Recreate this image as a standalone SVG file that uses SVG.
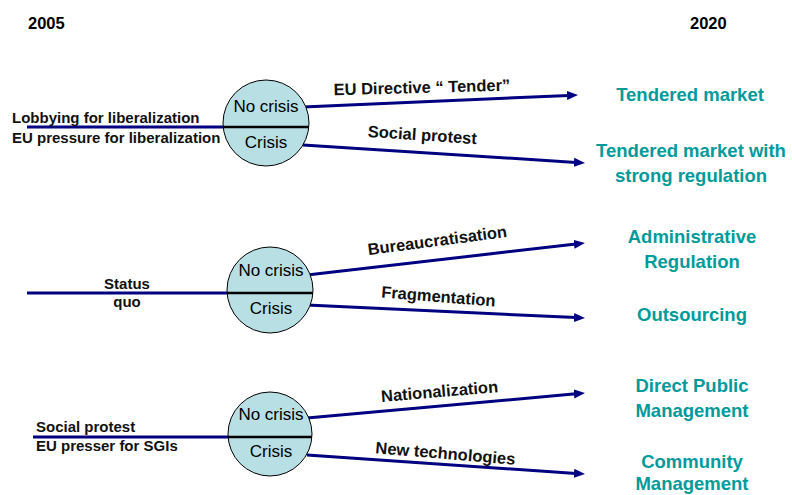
<svg xmlns="http://www.w3.org/2000/svg" width="792" height="495" viewBox="0 0 792 495">
  <style>
    text { font-family: "Liberation Sans", Arial, sans-serif; }
    .year { font-size: 16.5px; font-weight: bold; fill: #000; }
    .driver { font-size: 15px; font-weight: bold; fill: #111; }
    .path-label { font-size: 16.5px; font-weight: bold; fill: #111; text-anchor: middle; }
    .state { font-size: 17px; fill: #000; text-anchor: middle; }
    .outcome { font-size: 18.5px; font-weight: bold; fill: #009a9a; text-anchor: middle; }
    .ball { fill: #b8dfe4; stroke: #000; stroke-width: 1; }
    .split { stroke: #000; stroke-width: 2.5; }
    .trunk { stroke: #000080; stroke-width: 3; fill: none; }
    .branch { stroke: #000080; stroke-width: 3; fill: none; marker-end: url(#head); }
  </style>
  <defs>
    <marker id="head" markerUnits="userSpaceOnUse" markerWidth="12" markerHeight="10" refX="2" refY="4.5" orient="auto">
      <path d="M0,0 L11,4.5 L0,9 z" fill="#000080"/>
    </marker>
  </defs>

  <rect width="792" height="495" fill="#fff"/>

  <!-- timeline ends -->
  <g id="years">
    <text class="year" x="28" y="29">2005</text>
    <text class="year" x="690" y="29">2020</text>
  </g>

  <!-- connectors: incoming trunks and outgoing scenario branches -->
  <g id="connectors">
    <line class="trunk" x1="27" y1="127" x2="225" y2="127"/>
    <line class="trunk" x1="27" y1="293" x2="229" y2="293"/>
    <line class="trunk" x1="33" y1="437" x2="229" y2="437"/>

    <line class="branch" x1="303" y1="107" x2="569" y2="95.4"/>
    <line class="branch" x1="303" y1="145" x2="576" y2="162.4"/>
    <line class="branch" x1="307" y1="275" x2="576" y2="244"/>
    <line class="branch" x1="307" y1="305" x2="576" y2="317.6"/>
    <line class="branch" x1="307" y1="418" x2="576" y2="393.8"/>
    <line class="branch" x1="307" y1="455" x2="576" y2="473.4"/>
  </g>

  <!-- branch labels -->
  <g id="branch-labels">
    <text class="path-label" transform="translate(422,93) rotate(-1.5)">EU Directive “ Tender”</text>
    <text class="path-label" transform="translate(422,140.5) rotate(3.8)">Social protest</text>
    <text class="path-label" transform="translate(438,246) rotate(-7.5)">Bureaucratisation</text>
    <text class="path-label" transform="translate(438,302) rotate(4.5)">Fragmentation</text>
    <text class="path-label" transform="translate(440,397) rotate(-4.8)">Nationalization</text>
    <text class="path-label" transform="translate(445,459) rotate(4.8)">New technologies</text>
  </g>

  <!-- scenario 1: liberalization -->
  <g id="drivers-liberalization">
    <text class="driver" x="12" y="123">Lobbying for liberalization</text>
    <text class="driver" x="12" y="143">EU pressure for liberalization</text>
  </g>
  <g id="crisis-node-1">
    <circle class="ball" cx="266" cy="123" r="43"/>
    <line class="split" x1="223" y1="127" x2="309" y2="127"/>
    <text class="state" x="266" y="112">No crisis</text>
    <text class="state" x="266" y="148">Crisis</text>
  </g>

  <!-- scenario 2: status quo -->
  <g id="drivers-status-quo">
    <text class="driver" x="127" y="289" text-anchor="middle">Status</text>
    <text class="driver" x="127" y="307" text-anchor="middle">quo</text>
  </g>
  <g id="crisis-node-2">
    <circle class="ball" cx="270" cy="290" r="43"/>
    <line class="split" x1="227" y1="293" x2="313" y2="293"/>
    <text class="state" x="271" y="276">No crisis</text>
    <text class="state" x="271" y="314">Crisis</text>
  </g>

  <!-- scenario 3: social protest -->
  <g id="drivers-social">
    <text class="driver" x="36" y="432">Social protest</text>
    <text class="driver" x="36" y="451">EU presser for SGIs</text>
  </g>
  <g id="crisis-node-3">
    <circle class="ball" cx="270" cy="434" r="42"/>
    <line class="split" x1="228" y1="437" x2="312" y2="437"/>
    <text class="state" x="271" y="420">No crisis</text>
    <text class="state" x="271" y="457">Crisis</text>
  </g>

  <!-- 2020 outcomes -->
  <g id="outcome-tendered">
    <text class="outcome" x="690" y="101">Tendered market</text>
  </g>
  <g id="outcome-tendered-regulated">
    <text class="outcome" x="691" y="157">Tendered market with</text>
    <text class="outcome" x="691" y="182">strong regulation</text>
  </g>
  <g id="outcome-administrative">
    <text class="outcome" x="692" y="243">Administrative</text>
    <text class="outcome" x="692" y="268">Regulation</text>
  </g>
  <g id="outcome-outsourcing">
    <text class="outcome" x="692" y="321">Outsourcing</text>
  </g>
  <g id="outcome-direct">
    <text class="outcome" x="692" y="392">Direct Public</text>
    <text class="outcome" x="692" y="417">Management</text>
  </g>
  <g id="outcome-community">
    <text class="outcome" x="692" y="468">Community</text>
    <text class="outcome" x="692" y="490">Management</text>
  </g>
</svg>
